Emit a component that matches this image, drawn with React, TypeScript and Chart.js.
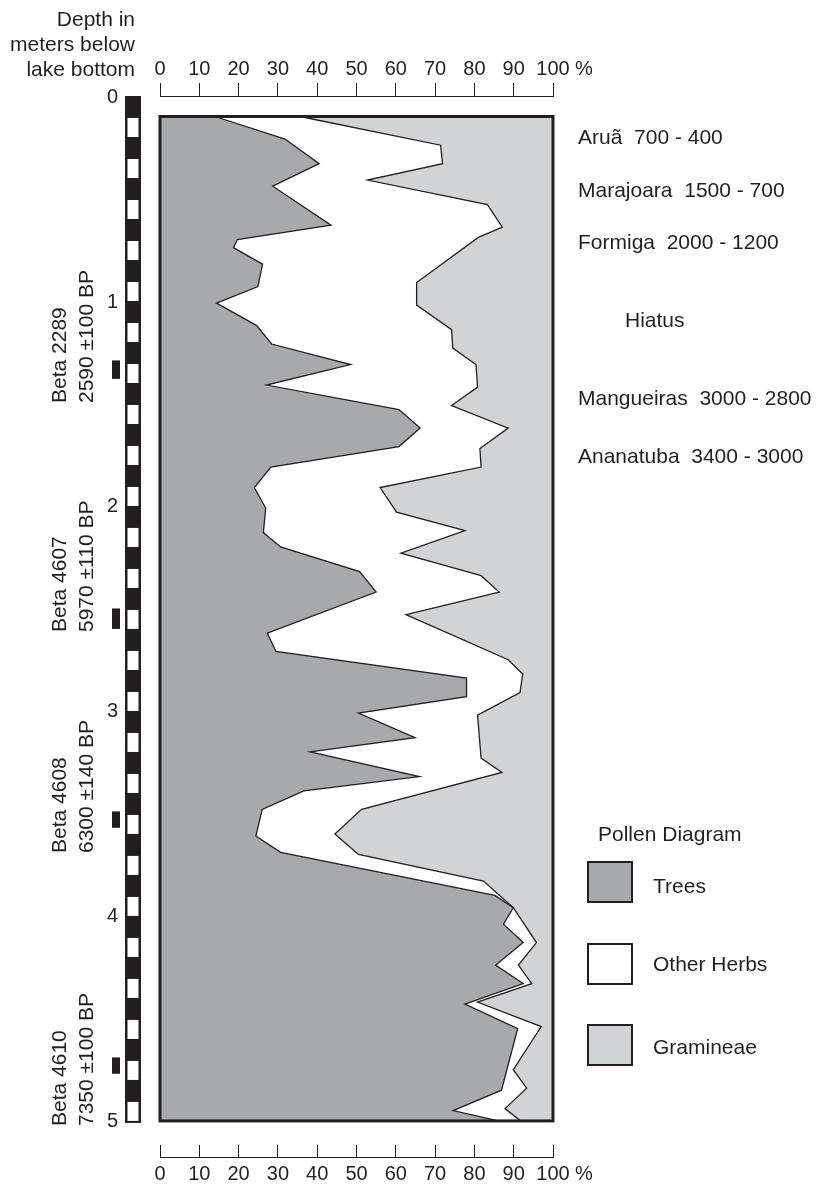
import React, { useEffect, useRef } from 'react';
import { Chart, registerables } from 'chart.js';

Chart.register(...registerables);

// ---------- data ----------
const depthTicks = [0, 1, 2, 3, 4, 5];

// Trees (%) boundary, by depth (m)
const treesDepth = [0.10, 0.21, 0.33, 0.44, 0.63, 0.70, 0.74, 0.82, 0.93, 1.01, 1.12, 1.21, 1.31, 1.41, 1.53, 1.62, 1.71, 1.81, 1.91, 2.01, 2.13, 2.20, 2.32, 2.42, 2.62, 2.71, 2.84, 2.93, 3.01, 3.13, 3.20, 3.32, 3.39, 3.48, 3.61, 3.69, 3.90, 3.96, 4.04, 4.13, 4.24, 4.33, 4.43, 4.55, 4.85, 4.95, 5.00];
const treesPct = [14.0, 31.8, 40.5, 28.7, 43.5, 19.7, 18.7, 26.1, 24.9, 14.4, 24.6, 28.4, 48.5, 27.1, 60.8, 66.2, 60.8, 28.2, 24.0, 26.9, 26.3, 30.7, 50.8, 55.0, 27.3, 29.5, 78.0, 78.0, 50.5, 64.9, 38.2, 66.0, 36.6, 26.0, 24.4, 30.7, 85.2, 89.9, 87.4, 92.4, 85.4, 92.4, 77.6, 91.0, 86.9, 74.6, 86.1];

// Trees + Other Herbs (%) cumulative boundary, by depth (m)
const herbsDepth = [0.10, 0.24, 0.33, 0.41, 0.53, 0.64, 0.69, 0.91, 1.02, 1.14, 1.23, 1.31, 1.42, 1.51, 1.62, 1.72, 1.81, 1.91, 2.03, 2.12, 2.23, 2.34, 2.42, 2.53, 2.75, 2.82, 2.91, 3.02, 3.23, 3.30, 3.48, 3.60, 3.70, 3.83, 3.96, 4.13, 4.24, 4.33, 4.42, 4.54, 4.75, 4.84, 4.94, 5.00];
const herbsCumPct = [35.6, 71.4, 71.9, 52.8, 83.3, 87.1, 81.0, 65.3, 65.3, 74.2, 74.5, 80.4, 80.8, 74.2, 88.6, 81.4, 81.7, 56.0, 60.2, 77.6, 61.3, 81.7, 86.3, 62.6, 88.6, 92.3, 91.6, 80.8, 81.7, 87.0, 51.3, 44.5, 50.5, 82.3, 89.9, 95.8, 91.2, 94.6, 80.8, 97.0, 89.9, 93.3, 87.8, 91.8];

const coreTop = 0.1;
const coreBottom = 5.0;
const rulerStep = 0.1;
const depthMax = 5;

const sampleTop = [1.29, 2.50, 3.49, 4.69];
const sampleBottom = [1.38, 2.60, 3.57, 4.77];
const sampleCodes = ['Beta 2289', 'Beta 4607', 'Beta 4608', 'Beta 4610'];
const sampleAges = ['2590 \u00b1100 BP', '5970 \u00b1110 BP', '6300 \u00b1140 BP', '7350 \u00b1100 BP'];

const cultures = ['Aru\u00e3  700 - 400', 'Marajoara  1500 - 700', 'Formiga  2000 - 1200', 'Hiatus', 'Mangueiras  3000 - 2800', 'Ananatuba  3400 - 3000'];

const headerLines = ['Depth in', 'meters below', 'lake bottom'];
const legendTitle = 'Pollen Diagram';
const legendNames = ['Trees', 'Other Herbs', 'Gramineae'];

// ---------- styles / layout ----------
const INK = '#231f20';
const TREES = '#a7a9ac';
const GRASS = '#d1d3d4';
const HERBS = '#ffffff';
const legendColors = [TREES, HERBS, GRASS];
const FONT = '"Liberation Sans", Arial, Helvetica, sans-serif';

const W = 817;
const H = 1186;
const cultureX = [578, 578, 578, 625, 578, 578];
const cultureBase = [143.3, 196.7, 248.3, 326.7, 405, 462.3];
const headerBase = [25.5, 51, 76];
const sampleLabelBottom = [402.5, 632, 852.5, 1125.5];
const legendBoxTop = [861, 943, 1024];
const legendTextBase = [892.7, 971, 1053.3];

const txt = (left: number, base: number, size = 21): React.CSSProperties => ({
  position: 'absolute',
  left,
  top: base - 0.846 * size,
  font: `${size}px ${FONT}`,
  lineHeight: `${size}px`,
  whiteSpace: 'pre',
  color: INK,
  margin: 0,
});

const decor = {
  id: 'decor',
  afterDatasetsDraw(chart: any) {
    const { ctx } = chart;
    const xs = chart.scales.x;
    const ys = chart.scales.y;
    const L = xs.getPixelForValue(0);
    const R = xs.getPixelForValue(100);
    const T = ys.getPixelForValue(coreTop);
    const B = ys.getPixelForValue(coreBottom);
    ctx.save();
    // core frame
    ctx.strokeStyle = INK;
    ctx.lineWidth = 3;
    ctx.strokeRect(L, T, R - L, B - T);
    // depth ruler
    const rx = 125;
    const rw = 16;
    const y0 = ys.getPixelForValue(0);
    const yEnd = ys.getPixelForValue(depthMax);
    ctx.fillStyle = INK;
    ctx.fillRect(rx, y0, rw, yEnd - y0 + 2);
    ctx.fillStyle = '#ffffff';
    const n = Math.round(depthMax / rulerStep);
    for (let i = 1; i < n; i += 2) {
      const a = ys.getPixelForValue(i * rulerStep);
      const b = ys.getPixelForValue((i + 1) * rulerStep);
      ctx.fillRect(rx + 2.5, a + 1.5, rw - 5, b - a - 1.5);
    }
    // sample positions
    ctx.fillStyle = INK;
    sampleTop.forEach((t, i) => {
      const a = ys.getPixelForValue(t);
      const b = ys.getPixelForValue(sampleBottom[i]);
      ctx.fillRect(112, a, 8, b - a);
    });
    // depth labels
    ctx.font = `20px ${FONT}`;
    ctx.textAlign = 'right';
    ctx.textBaseline = 'middle';
    depthTicks.forEach((d) => ctx.fillText(String(d), 118, ys.getPixelForValue(d) + 1));
    // percent signs after the axes
    ctx.textAlign = 'left';
    ctx.fillText('%', 575, 69);
    ctx.fillText('%', 575, 1174);
    ctx.restore();
  },
};

export default function App() {
  const ref = useRef<HTMLCanvasElement | null>(null);

  useEffect(() => {
    document.body.style.margin = '0';
    const canvas = ref.current;
    if (!canvas) return;
    const tickFont = { size: 20, family: FONT };
    const chart = new Chart(canvas, {
      type: 'line',
      data: {
        datasets: [
          {
            label: 'Trees',
            data: treesDepth.map((d, i) => ({ x: treesPct[i], y: d })),
            borderColor: INK,
            borderWidth: 1.3,
            backgroundColor: TREES,
            fill: { target: { value: 0 } },
            pointRadius: 0,
            tension: 0,
          },
          {
            label: 'Trees + Other Herbs',
            data: herbsDepth.map((d, i) => ({ x: herbsCumPct[i], y: d })),
            borderColor: INK,
            borderWidth: 1.3,
            backgroundColor: GRASS,
            fill: { target: { value: 100 } },
            pointRadius: 0,
            tension: 0,
          },
        ],
      } as any,
      options: {
        indexAxis: 'y',
        animation: false,
        responsive: false,
        devicePixelRatio: 1,
        layout: { padding: { left: 160, right: W - 553, top: 0, bottom: 0 } },
        plugins: { legend: { display: false }, tooltip: { enabled: false } },
        scales: {
          x: {
            type: 'linear',
            position: 'top',
            min: 0,
            max: 100,
            ticks: { stepSize: 10, font: tickFont, color: INK, padding: 2, maxRotation: 0, autoSkip: false },
            grid: { drawOnChartArea: false, tickLength: 13, color: INK, lineWidth: 1 },
            border: { color: INK, width: 1 },
            afterFit: (s: any) => { s.height = 96; },
          },
          x2: {
            type: 'linear',
            position: 'bottom',
            min: 0,
            max: 100,
            ticks: { stepSize: 10, font: tickFont, color: INK, padding: 17, maxRotation: 0, autoSkip: false },
            grid: { drawOnChartArea: false, tickLength: -12, color: INK, lineWidth: 1 },
            border: { color: INK, width: 1 },
            afterFit: (s: any) => { s.height = 29; },
          },
          y: {
            type: 'linear',
            min: 0,
            max: 5.176,
            reverse: true,
            display: false,
          },
        },
      } as any,
      plugins: [decor],
    });
    return () => chart.destroy();
  }, []);

  return (
    <div style={{ position: 'relative', width: W, height: H, overflow: 'hidden', background: '#fff' }}>
      <canvas ref={ref} width={W} height={H} style={{ display: 'block', width: W, height: H }} />
      {headerLines.map((t, i) => (
        <div key={t} style={{ ...txt(0, headerBase[i]), left: undefined, right: W - 135, textAlign: 'right' }}>{t}</div>
      ))}
      {cultures.map((c, i) => (
        <div key={c} style={txt(cultureX[i], cultureBase[i])}>{c}</div>
      ))}
      {sampleCodes.map((code, i) => (
        <React.Fragment key={code}>
          <div style={{ ...txt(66 - 0.846 * 21, sampleLabelBottom[i] + 0.846 * 21), top: sampleLabelBottom[i], transform: 'rotate(-90deg)', transformOrigin: '0 0' }}>{code}</div>
          <div style={{ ...txt(92.5 - 0.846 * 21, sampleLabelBottom[i] + 0.846 * 21), top: sampleLabelBottom[i], transform: 'rotate(-90deg)', transformOrigin: '0 0' }}>{sampleAges[i]}</div>
        </React.Fragment>
      ))}
      <div style={txt(598, 840.7)}>{legendTitle}</div>
      {legendNames.map((name, i) => (
        <React.Fragment key={name}>
          <div style={{ position: 'absolute', left: 587, top: legendBoxTop[i], width: 46, height: 42, boxSizing: 'border-box', border: `2px solid ${INK}`, background: legendColors[i] }} />
          <div style={txt(653, legendTextBase[i])}>{name}</div>
        </React.Fragment>
      ))}
    </div>
  );
}
